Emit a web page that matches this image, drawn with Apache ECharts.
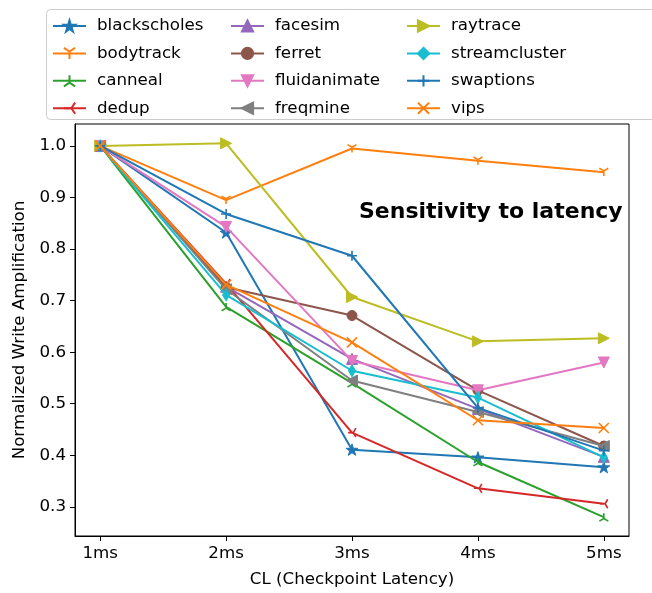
<!DOCTYPE html>
<html>
<head>
<meta charset="utf-8">
<script src="https://cdn.jsdelivr.net/npm/echarts@6/dist/echarts.min.js"></script>
<style>html,body{margin:0;padding:0;background:#fff;}#c{width:652px;height:593px;}</style>
</head>
<body>
<div id="c"></div>
<script>
const xLabels = ['1ms', '2ms', '3ms', '4ms', '5ms'];
const yTicks = [0.3, 0.4, 0.5, 0.6, 0.7, 0.8, 0.9, 1.0];
const names = ['blackscholes','bodytrack','canneal','dedup','facesim','ferret','fluidanimate','freqmine','raytrace','streamcluster','swaptions','vips'];
const blackscholes = [1.0, 0.832, 0.411, 0.396, 0.377];
const bodytrack = [1.0, 0.895, 0.995, 0.971, 0.949];
const canneal = [1.0, 0.688, 0.540, 0.387, 0.280];
const dedup = [1.0, 0.733, 0.444, 0.336, 0.306];
const facesim = [1.0, 0.727, 0.587, 0.490, 0.397];
const ferret = [1.0, 0.726, 0.671, 0.526, 0.418];
const fluidanimate = [1.0, 0.843, 0.583, 0.526, 0.580];
const freqmine = [1.0, 0.722, 0.545, 0.484, 0.418];
const raytrace = [1.0, 1.005, 0.707, 0.621, 0.627];
const streamcluster = [1.0, 0.711, 0.564, 0.512, 0.396];
const swaptions = [1.0, 0.868, 0.787, 0.492, 0.409];
const vips = [1.0, 0.731, 0.619, 0.468, 0.453];
const seriesValues = [blackscholes, bodytrack, canneal, dedup, facesim, ferret, fluidanimate, freqmine, raytrace, streamcluster, swaptions, vips];
const colors = ['#1f77b4','#ff7f0e','#2ca02c','#d62728','#9467bd','#8c564b','#e377c2','#7f7f7f','#bcbd22','#17becf','#1f77b4','#ff7f0e'];

const STAR = 'path://M10 0 L12.25 6.91 L19.51 6.91 L13.63 11.18 L15.88 18.09 L10 13.82 L4.12 18.09 L6.37 11.18 L0.49 6.91 L7.75 6.91 Z';
const TRI_DOWN = 'path://M10 10 L10 20 M10 10 L1.34 5 M10 10 L18.66 5';
const TRI_UP = 'path://M10 10 L10 0 M10 10 L1.34 15 M10 10 L18.66 15';
const TRI_LEFT = 'path://M10 10 L0 10 M10 10 L15 1.34 M10 10 L15 18.66';
const PLUS = 'path://M10 0 L10 20 M0 10 L20 10';
const CROSS = 'path://M0 0 L20 20 M20 0 L0 20';

// marker: [symbol, size, rotate, stroked]
const markers = [
  [STAR, 12, 0, false],
  [TRI_DOWN, 9, 0, true],
  [TRI_UP, 9, 0, true],
  [TRI_LEFT, 9, 0, true],
  ['triangle', 11, 0, false],
  ['circle', 10, 0, false],
  ['triangle', 11, 180, false],
  ['triangle', 11, 90, false],
  ['triangle', 11, -90, false],
  ['diamond', [7, 12], 0, false],
  [PLUS, 10, 0, true],
  [CROSS, 10, 0, true]
];

const FONT = 'DejaVu Sans';
const series = names.map((n, i) => {
  const m = markers[i];
  return {
    name: n,
    type: 'line',
    data: seriesValues[i].map((v, j) => [j, v]),
    symbol: m[0],
    symbolSize: m[1],
    symbolRotate: m[2],
    symbolKeepAspect: true,
    showSymbol: true,
    lineStyle: { width: 2, color: colors[i] },
    itemStyle: { color: m[3] ? 'none' : colors[i], borderColor: colors[i], borderWidth: m[3] ? 1.6 : 1, opacity: 1 },
    emphasis: { disabled: true },
    animation: false,
    z: 2 + i * 0.01
  };
});

function legendCol(left, items) {
  return {
    data: items,
    orient: 'vertical',
    left: left,
    top: 16,
    padding: 0,
    itemWidth: 33,
    itemHeight: 14,
    itemGap: 7.4,
    selectedMode: false,
    textStyle: { fontFamily: FONT, fontSize: 16.7, color: '#000', lineHeight: 20, padding: [0, 0, 0, 6] }
  };
}

const chart = echarts.init(document.getElementById('c'), null, { renderer: 'canvas' });
chart.setOption({
  backgroundColor: '#fff',
  animation: false,
  color: colors,
  grid: { left: 75, right: 23, top: 124, bottom: 56, show: true, borderColor: '#000', borderWidth: 1, backgroundColor: 'transparent' },
  title: {
    text: 'Sensitivity to latency',
    left: 354, top: 196,
    textStyle: { fontFamily: FONT, fontSize: 22, fontWeight: 'bold', color: '#000' }
  },
  legend: [
    legendCol(52, names.slice(0, 4)),
    legendCol(230, names.slice(4, 8)),
    legendCol(406, names.slice(8, 12))
  ],
  graphic: [{
    type: 'rect', z: -1, silent: true,
    shape: { x: 46.5, y: 9.5, width: 640, height: 110, r: 4 },
    style: { fill: 'rgba(255,255,255,0.8)', stroke: '#cccccc', lineWidth: 1 }
  }],
  xAxis: {
    type: 'value', min: -0.2, max: 4.2,
    name: 'CL (Checkpoint Latency)', nameLocation: 'middle', nameGap: 35,
    nameTextStyle: { fontFamily: FONT, fontSize: 16.7, color: '#000' },
    axisLine: { show: true, onZero: false, lineStyle: { color: '#000', width: 1 } },
    axisTick: { show: true, length: 5, lineStyle: { color: '#000' }, customValues: [0, 1, 2, 3, 4] },
    axisLabel: { customValues: [0, 1, 2, 3, 4], formatter: v => xLabels[Math.round(v)], fontFamily: FONT, fontSize: 16.7, color: '#000', margin: 9 },
    splitLine: { show: false }
  },
  yAxis: {
    type: 'value', min: 0.2435, max: 1.0425,
    name: 'Normalized Write Amplification', nameLocation: 'middle', nameGap: 46,
    nameTextStyle: { fontFamily: FONT, fontSize: 16.7, color: '#000' },
    axisLine: { show: true, onZero: false, lineStyle: { color: '#000', width: 1 } },
    axisTick: { show: true, length: 5, lineStyle: { color: '#000' }, customValues: yTicks },
    axisLabel: { customValues: yTicks, formatter: v => v.toFixed(1), fontFamily: FONT, fontSize: 16.7, color: '#000', margin: 9 },
    splitLine: { show: false }
  },
  series: series
});
</script>
</body>
</html>
